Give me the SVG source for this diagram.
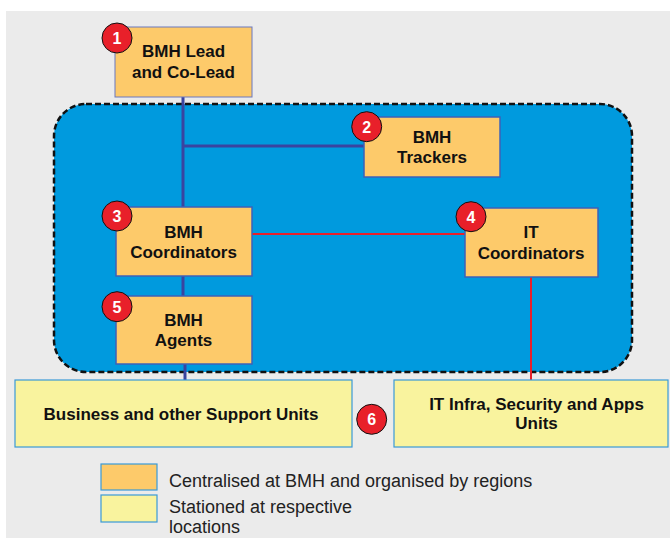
<svg xmlns="http://www.w3.org/2000/svg" width="670" height="538" viewBox="0 0 670 538">
  <style>
    .node { fill: #fdca6a; stroke: #3c62b8; stroke-width: 1.5; }
    .site { fill: #f9f39e; stroke: #3a9ad8; stroke-width: 1.2; }
    .lbl { font-family: "Liberation Sans", Arial, sans-serif; font-weight: bold; font-size: 17px; fill: #111; text-anchor: middle; }
    .badge circle { fill: #e8202a; stroke: #111; stroke-width: 1; }
    .badge text { font-family: "Liberation Sans", Arial, sans-serif; font-weight: bold; font-size: 16px; fill: #fff; text-anchor: middle; }
    .blue { stroke: #3a44a0; stroke-width: 3; fill: none; }
    .red { stroke: #e8202a; stroke-width: 2; fill: none; }
    .legend { font-family: "Liberation Sans", Arial, sans-serif; font-size: 18px; fill: #222; }
  </style>

  <!-- page -->
  <rect x="0" y="0" width="670" height="538" fill="#ffffff"/>
  <rect x="6" y="11" width="664" height="527" fill="#ebebeb"/>

  <!-- central BMH zone -->
  <rect id="zone" x="54" y="104" width="578" height="268" rx="32" ry="32" fill="#009ade" stroke="#111" stroke-width="2.5" stroke-dasharray="6 3"/>

  <g id="connectors">
    <path class="blue" d="M183 96 V207 M183 146 H364 M183 276 V296"/>
    <path class="blue" d="M185 364 V380"/>
    <path class="red" d="M252 234 H465 M531 277 V380"/>
  </g>

  <g id="lead">
    <rect x="115" y="27" width="137" height="70" fill="#fdca6a" stroke="#6a78c0" stroke-width="1"/>
    <text class="lbl" x="183.5" y="57.3">BMH Lead</text>
    <text class="lbl" x="183.5" y="78.3">and Co-Lead</text>
    <g class="badge"><circle cx="117" cy="38" r="15"/><text x="117" y="44">1</text></g>
  </g>

  <g id="trackers">
    <rect class="node" x="364" y="117" width="136" height="60"/>
    <text class="lbl" x="432" y="142.7">BMH</text>
    <text class="lbl" x="432" y="163.3">Trackers</text>
    <g class="badge"><circle cx="366.7" cy="126.7" r="15"/><text x="366.7" y="132.7">2</text></g>
  </g>

  <g id="bmh-coordinators">
    <rect class="node" x="116" y="207" width="136" height="69"/>
    <text class="lbl" x="183.5" y="237.7">BMH</text>
    <text class="lbl" x="183.5" y="257.7">Coordinators</text>
    <g class="badge"><circle cx="117" cy="216" r="15"/><text x="117" y="222">3</text></g>
  </g>

  <g id="it-coordinators">
    <rect class="node" x="465" y="208" width="133" height="69"/>
    <text class="lbl" x="531" y="238.3">IT</text>
    <text class="lbl" x="531" y="258.7">Coordinators</text>
    <g class="badge"><circle cx="471" cy="216.7" r="15"/><text x="471" y="222.7">4</text></g>
  </g>

  <g id="agents">
    <rect class="node" x="116" y="296" width="136" height="68"/>
    <text class="lbl" x="183.5" y="325.7">BMH</text>
    <text class="lbl" x="183.5" y="345.7">Agents</text>
    <g class="badge"><circle cx="117" cy="306.7" r="15"/><text x="117" y="312.7">5</text></g>
  </g>

  <g id="business-units">
    <rect class="site" x="15" y="380" width="337" height="67"/>
    <text class="lbl" x="181" y="420">Business and other Support Units</text>
  </g>

  <g id="it-units">
    <rect class="site" x="394" y="380" width="274" height="67"/>
    <text class="lbl" x="536.5" y="410">IT Infra, Security and Apps</text>
    <text class="lbl" x="536.5" y="429.3">Units</text>
  </g>

  <g id="badge-6" class="badge"><circle cx="371.7" cy="419.3" r="15"/><text x="371.7" y="425.3">6</text></g>

  <g id="legend">
    <rect x="101" y="464" width="56" height="26" fill="#fdca6a" stroke="#3a9ad8" stroke-width="1.2"/>
    <rect x="101" y="495" width="56" height="27" fill="#f9f39e" stroke="#3a9ad8" stroke-width="1.2"/>
    <text class="legend" x="169" y="486.7">Centralised at BMH and organised by regions</text>
    <text class="legend" x="169" y="513.3">Stationed at respective</text>
    <text class="legend" x="169" y="533">locations</text>
  </g>
</svg>
